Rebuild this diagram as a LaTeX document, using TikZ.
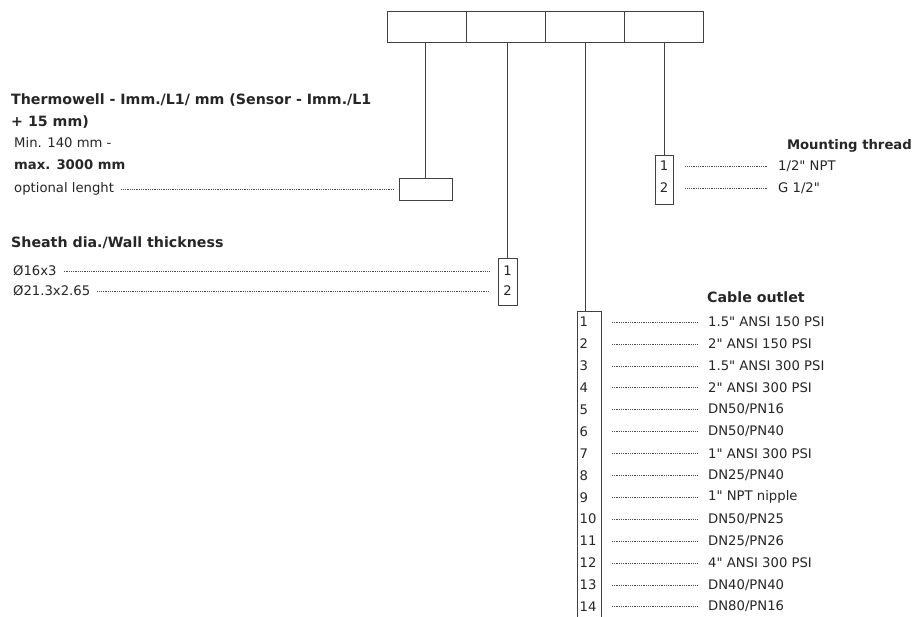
\documentclass[tikz,border=0pt]{standalone}
\usepackage{fontspec}
\setmainfont{DejaVu Sans}
\begin{document}
\begin{tikzpicture}[x=1pt,y=-1pt,
  cell/.style={draw=black!75, line width=0.8pt, minimum width=79pt, minimum height=31pt, inner sep=0pt, anchor=north west},
  conn/.style={draw=black!75, line width=0.7pt},
  txt/.style={font=\fontsize{13.2}{15}\selectfont, text=black!85, inner sep=0pt, anchor=west},
  hdr/.style={font=\fontsize{14.2}{16}\selectfont\bfseries, text=black!85, inner sep=0pt, anchor=west},
  numtxt/.style={font=\fontsize{13.2}{15}\selectfont, text=black!85, inner sep=0pt},
  leader/.style={draw=black!70, line width=0.6pt, dash pattern=on 0.8pt off 1pt},
  numbox/.style={draw=black!75, line width=0.7pt, inner sep=0pt},
]
\clip (0,0) rectangle (915,616);
\fill[white] (0,0) rectangle (915,616);
% top code cells
\node[cell] (cA) at (387,11) {};
\node[cell] (cB) at (466,11) {};
\node[cell] (cC) at (545,11) {};
\node[cell] (cD) at (624,11) {};
% thermowell
\node[hdr] (th1) at (11,100) {Thermowell - Imm./L1/ mm (Sensor - Imm./L1};
\node[hdr] (th2) at (11,122) {+ 15 mm)};
\node[txt] (th3) at (14,143) {Min. 140 mm -};
\node[txt, font=\fontsize{13.2}{15}\selectfont\bfseries] (th4) at (14,165) {max. 3000 mm};
\node[txt] (th5) at (14,189) {optional lenght};
\node[numbox, minimum width=53pt, minimum height=22pt] (tw) at (425.5,189) {};
\draw[conn] (cA.south -| tw.north) -- (tw.north);
\draw[leader] ([xshift=7pt]th5.east) -- ([xshift=-5pt]tw.west);
% sheath
\node[hdr] (sh) at (11,243) {Sheath dia./Wall thickness};
\node[txt] (sh1) at (13,271) {Ø16x3};
\node[txt] (sh2) at (13,291) {Ø21.3x2.65};
\node[numbox, minimum width=19pt, minimum height=47pt] (sb) at (507.5,281.5) {};
\node[numtxt] (sbn1) at (507.5,271) {1};
\node[numtxt] (sbn2) at (507.5,291) {2};
\draw[conn] (cB.south -| sb.north) -- (sb.north);
\draw[leader] ([xshift=7pt]sh1.east) -- ([xshift=-8pt]sb.west |- sh1.east);
\draw[leader] ([xshift=7pt]sh2.east) -- ([xshift=-8pt]sb.west |- sh2.east);
% mounting thread
\node[hdr, anchor=east, font=\fontsize{13.2}{15}\selectfont\bfseries] (mt) at (912,146) {Mounting thread};
\node[numbox, minimum width=18pt, minimum height=49pt] (mb) at (664,179.5) {};
\node[numtxt] (mbn1) at (664,166) {1};
\node[numtxt] (mbn2) at (664,188) {2};
\node[txt] (mt1) at (778,166) {1/2\textquotedbl{} NPT};
\node[txt] (mt2) at (778,188) {G 1/2\textquotedbl};
\draw[conn] (cD.south -| mb.north) -- (mb.north);
\draw[leader] ([xshift=12pt]mb.east |- mt1.west) -- ([xshift=-11pt]mt1.west);
\draw[leader] ([xshift=12pt]mb.east |- mt2.west) -- ([xshift=-11pt]mt2.west);
% cable outlet
\node[hdr] (co) at (707,297) {Cable outlet};
\node[numbox, minimum width=24pt, minimum height=320pt, anchor=north] (cb) at (589,311) {};
\draw[conn] (cC.south) -- (cC.south |- cb.north);
\foreach \i/\t in {1/{1.5\textquotedbl{} ANSI 150 PSI}, 2/{2\textquotedbl{} ANSI 150 PSI}, 3/{1.5\textquotedbl{} ANSI 300 PSI}, 4/{2\textquotedbl{} ANSI 300 PSI}, 5/{DN50/PN16}, 6/{DN50/PN40}, 7/{1\textquotedbl{} ANSI 300 PSI}, 8/{DN25/PN40}, 9/{1\textquotedbl{} NPT nipple}, 10/{DN50/PN25}, 11/{DN25/PN26}, 12/{4\textquotedbl{} ANSI 300 PSI}, 13/{DN40/PN40}, 14/{DN80/PN16}} {
  \node[numtxt, anchor=west] (n\i) at (579.5,{322+21.9*(\i-1)}) {\i};
  \node[txt] (o\i) at (708,{322+21.9*(\i-1)}) {\t};
  \draw[leader] (612,{322+21.9*(\i-1)}) -- ([xshift=-10pt]o\i.west);
}
\end{tikzpicture}
\end{document}
